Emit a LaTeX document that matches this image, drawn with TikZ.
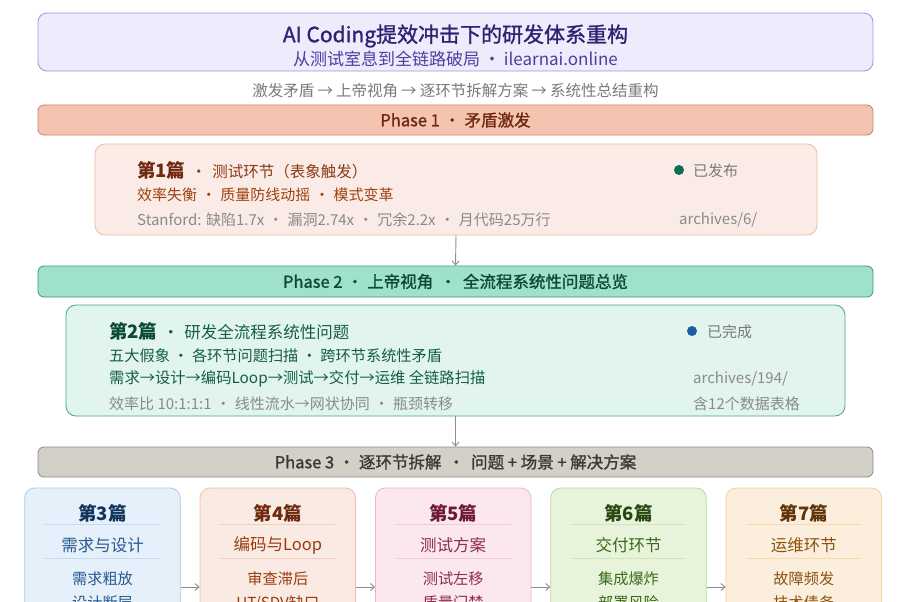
\documentclass[tikz,border=0pt]{standalone}
\usepackage{fontspec}
\setmainfont{Noto Sans CJK SC}
\newfontfamily\medfont{Noto Sans CJK SC}[FakeBold=1.2]
\usetikzlibrary{arrows.meta}
\definecolor{ttlfill}{HTML}{EEEBFC}
\definecolor{ttldraw}{HTML}{9E96DC}
\definecolor{ttltext}{HTML}{2B2470}
\definecolor{ttlsub}{HTML}{4B3FA0}
\definecolor{graytext}{HTML}{7A7A7A}
\definecolor{ptgray}{HTML}{8A8A8A}
\definecolor{pAfill}{HTML}{F5C4B1}
\definecolor{pAdraw}{HTML}{C98468}
\definecolor{pAtext}{HTML}{6E2A10}
\definecolor{cAfill}{HTML}{FAEBE6}
\definecolor{cAdraw}{HTML}{F2B9A3}
\definecolor{cAtext}{HTML}{8B3A16}
\definecolor{cAline}{HTML}{A0400F}
\definecolor{dotgreen}{HTML}{0E6E52}
\definecolor{pBfill}{HTML}{A0E1CB}
\definecolor{pBdraw}{HTML}{3C9A78}
\definecolor{pBtext}{HTML}{0B4A36}
\definecolor{cBfill}{HTML}{E1F4ED}
\definecolor{cBdraw}{HTML}{4DA584}
\definecolor{cBtext}{HTML}{155E44}
\definecolor{dotblue}{HTML}{1A5DAB}
\definecolor{pCfill}{HTML}{D3D0C8}
\definecolor{pCdraw}{HTML}{8C8A83}
\definecolor{pCtext}{HTML}{3A3935}
\definecolor{arrowgray}{HTML}{8E8E8E}
% row cards
\definecolor{kAfill}{HTML}{E5F0FB}\definecolor{kAdraw}{HTML}{A8CBEE}\definecolor{kAtitle}{HTML}{12335E}\definecolor{kAtext}{HTML}{2A5A8E}\definecolor{kAsep}{HTML}{C3DAF2}
\definecolor{kBfill}{HTML}{FAEAE4}\definecolor{kBdraw}{HTML}{F2BBA6}\definecolor{kBtitle}{HTML}{6E2A0E}\definecolor{kBtext}{HTML}{9A3A10}\definecolor{kBsep}{HTML}{F5CDBE}
\definecolor{kCfill}{HTML}{FBE7EF}\definecolor{kCdraw}{HTML}{F2B3CB}\definecolor{kCtitle}{HTML}{6E1A36}\definecolor{kCtext}{HTML}{8E2C4E}\definecolor{kCsep}{HTML}{F5C8D8}
\definecolor{kDfill}{HTML}{E8F3DC}\definecolor{kDdraw}{HTML}{B8DC96}\definecolor{kDtitle}{HTML}{27480E}\definecolor{kDtext}{HTML}{3D6A1A}\definecolor{kDsep}{HTML}{CFE6B8}
\definecolor{kEfill}{HTML}{FCEEDC}\definecolor{kEdraw}{HTML}{F5CE98}\definecolor{kEtitle}{HTML}{5E3308}\definecolor{kEtext}{HTML}{8A5410}\definecolor{kEsep}{HTML}{F7D9AE}
\newcommand{\fsz}[1]{\fontsize{#1}{#1}\selectfont}
\newcommand{\dsep}[1][1.55em]{\makebox[#1]{·}}
\newcommand{\arr}[1][1.4em]{\makebox[#1]{→}}
\tikzset{
  x=1pt, y=-1pt,
  bar/.style={draw, rounded corners=6pt, line width=0.8pt, minimum width=835pt, minimum height=30pt, inner sep=0pt},
  card/.style={draw, rounded corners=10pt, line width=0.8pt, inner sep=0pt},
  txt/.style={anchor=west, inner sep=0pt},
  ctxt/.style={anchor=center, inner sep=0pt},
  conn/.style={draw=arrowgray, line width=0.9pt, -{Straight Barb[length=4pt,width=7pt]}},
  rowcard/.style={card, minimum width=155.5pt, minimum height=160pt},
}
\begin{document}
\begin{tikzpicture}
\useasboundingbox (0,0) rectangle (906,602);
\clip (0,0) rectangle (906,602);
\fill[white] (0,0) rectangle (906,602);
% title
\node[card, rounded corners=9pt, fill=ttlfill, draw=ttldraw, minimum width=835pt, minimum height=58pt] (title) at (455.5,42) {};
\node[ctxt, text=ttltext, font=\medfont\fsz{21}] (t1) at (455.5,36) {AI Coding提效冲击下的研发体系重构};
\node[ctxt, text=ttlsub, font=\fsz{17}] (t2) at (455.5,59) {从测试室息到全链路破局\dsep[1.4em]ilearnai.online};
\node[ctxt, text=graytext, font=\fsz{15.5}] (flow) at (455.5,91) {激发矛盾\arr 上帝视角\arr 逐环节拆解方案\arr 系统性总结重构};
% phase 1
\node[bar, fill=pAfill, draw=pAdraw, text=pAtext, font=\medfont\fsz{16.5}] (p1) at (455.5,120) {Phase 1\dsep[1.5em]矛盾激发};
\node[card, fill=cAfill, draw=cAdraw, minimum width=722pt, minimum height=91pt] (c1) at (456,189.5) {};
\node[txt, text=cAtext] (c1a) at (137,170) {{\fsz{18.5}\bfseries\color{pAtext}第1篇}{\fsz{15.5}\dsep[27pt]测试环节（表象触发）}};
\fill[dotgreen] (679,170) circle (5pt);
\node[txt, text=graytext, font=\fsz{15}] (c1s) at (693,170.5) {已发布};
\node[txt, text=cAline, font=\fsz{15}] (c1b) at (137,195) {效率失衡\dsep 质量防线动摇\dsep 模式变革};
\node[txt, text=ptgray, font=\fsz{15}] (c1c) at (137,220) {Stanford: 缺陷1.7x\dsep 漏洞2.74x\dsep 冗余2.2x\dsep 月代码25万行};
\node[txt, text=ptgray, font=\fsz{15}] (c1d) at (679,220) {archives/6/};
% phase 2
\node[bar, fill=pBfill, draw=pBdraw, text=pBtext, font=\medfont\fsz{16.5}, minimum height=31pt] (p2) at (455.5,281.5) {Phase 2\dsep[1.5em]上帝视角\dsep[1.8em]全流程系统性问题总览};
\draw[conn] (c1.south) -- (p2.north);
\node[card, fill=cBfill, draw=cBdraw, minimum width=779pt, minimum height=111pt] (c2) at (455.5,360.5) {};
\node[txt, text=cBtext] (c2a) at (109,331) {{\fsz{18.5}\bfseries\color{pBtext}第2篇}{\fsz{16.5}\dsep[27pt]研发全流程系统性问题}};
\fill[dotblue] (692,331) circle (5pt);
\node[txt, text=graytext, font=\fsz{15}] (c2s) at (707,331.5) {已完成};
\node[txt, text=cBtext, font=\fsz{15.2}] (c2b) at (109,356) {五大假象\dsep[1.45em]各环节问题扫描\dsep[1.45em]跨环节系统性矛盾};
\node[txt, text=cBtext, font=\fsz{15.3}] (c2c) at (109,379) {需求→设计→编码Loop→测试→交付→运维 全链路扫描};
\node[txt, text=ptgray, font=\fsz{15}] (c2d) at (109,404) {效率比 10:1:1:1\dsep 线性流水→网状协同\dsep 瓶颈转移};
\node[txt, text=ptgray, font=\fsz{15}] (c2e) at (693,379) {archives/194/};
\node[txt, text=ptgray, font=\fsz{15}] (c2f) at (693,404) {含12个数据表格};
% phase 3
\node[bar, fill=pCfill, draw=pCdraw, text=pCtext, font=\medfont\fsz{16.5}] (p3) at (455.5,462) {Phase 3\dsep[1.5em]逐环节拆解\dsep[1.8em]问题 + 场景 + 解决方案};
\draw[conn] (c2.south) -- (p3.north);
% row cards
\foreach \k/\cx/\ti/\su/\ia/\ib in {A/102.5/第3篇/需求与设计/需求粗放/设计断层, B/277.8/第4篇/编码与Loop/审查滞后/{UT/SDV缺口}, C/453.2/第5篇/测试方案/测试左移/质量门禁, D/628.5/第6篇/交付环节/集成爆炸/部署风险, E/803.8/第7篇/运维环节/故障频发/技术债务}{
  \node[rowcard, fill=k\k fill, draw=k\k draw] (r\k) at (\cx,568) {};
  \node[ctxt, text=k\k title, font=\fsz{18.5}\bfseries] (r\k t) at (\cx,513) {\ti};
  \draw[k\k sep, line width=0.9pt] ([xshift=-57.5pt]r\k t.center |- 0,524) coordinate (r\k s1) -- ([xshift=57.5pt]r\k t.center |- 0,524) coordinate (r\k s2);
  \node[ctxt, text=k\k text, font=\fsz{16.5}] (r\k u) at (\cx,545) {\su};
  \draw[k\k sep, line width=0.9pt] ([xshift=-57.5pt]r\k u.center |- 0,558) coordinate (r\k s3) -- ([xshift=57.5pt]r\k u.center |- 0,558) coordinate (r\k s4);
  \node[ctxt, text=k\k text, font=\fsz{15.2}] (r\k i) at (\cx,579) {\ia};
  \node[ctxt, text=k\k text, font=\fsz{15.2}] (r\k j) at (\cx,603) {\ib};
}
\foreach \a/\b in {A/B, B/C, C/D, D/E}{
  \draw[conn] (r\a.east |- 0,587) coordinate (s\a) -- (r\b.west |- 0,587) coordinate (e\b);
}
\end{tikzpicture}
\end{document}
